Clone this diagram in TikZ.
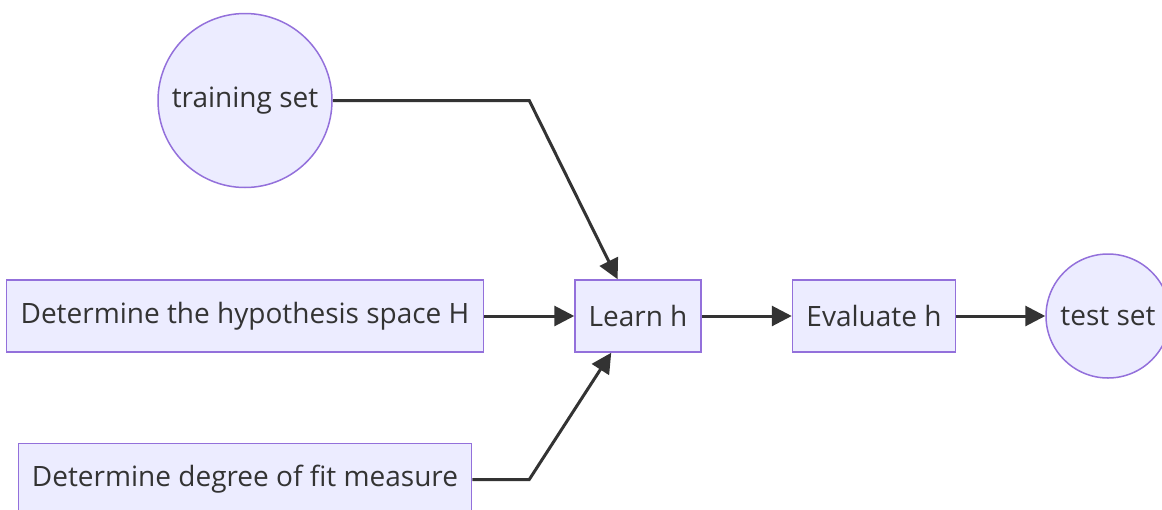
\documentclass[tikz,border=0pt]{standalone}
\usepackage{fontspec}
\setmainfont{Open Sans}
\usepackage{xcolor}
\usetikzlibrary{arrows.meta,positioning,calc}

\definecolor{nodefill}{HTML}{ECECFF}
\definecolor{nodeline}{HTML}{9370DB}
\definecolor{linkcol}{HTML}{333333}

\begin{document}
\begin{tikzpicture}[
    x=1pt, y=1pt,
    node distance=90pt and 90pt,
    every node/.style={font=\fontsize{28}{33}\selectfont, text=linkcol},
    box/.style={draw=nodeline, line width=1.5pt, fill=nodefill, inner xsep=2pt, minimum height=72pt},
    roundnode/.style={draw=nodeline, line width=1.5pt, fill=nodefill, circle, inner sep=0pt},
    arrow/.style={-{Triangle[length=20pt, width=20pt]}, line width=3pt, draw=linkcol}
]
\useasboundingbox (0,0) rectangle (1162,-509);

\node[box, minimum width=126pt] (learn) at (638,-316) {Learn h};
\node[box, minimum width=477pt, left=of learn] (hyp) {Determine the hypothesis space H};
\node[box, minimum width=453pt, below=of hyp] (fit) {Determine degree of fit measure};
\node[roundnode, minimum size=174pt, above=91pt of hyp] (train) {training set};
\node[box, minimum width=163pt, right=of learn] (eval) {Evaluate h};
\node[roundnode, minimum size=124pt, right=89pt of eval] (test) {test set};

% bend points of the two slanted links
\coordinate (gap) at ($(hyp.east)!0.5!(learn.west)$);
\coordinate (bendtop) at (gap |- train.east);
\coordinate (bendbot) at (gap |- fit.east);
\coordinate (intop) at ($(learn.north west)!0.34!(learn.north east)$);
\coordinate (inbot) at ($(learn.south west)!0.29!(learn.south east)$);

\draw[arrow] (train.east) -- (bendtop) -- (intop);
\draw[arrow] (hyp) -- (learn);
\draw[arrow] (fit.east) -- (bendbot) -- (inbot);
\draw[arrow] (learn) -- (eval);
\draw[arrow] (eval) -- (test);
\end{tikzpicture}
\end{document}
